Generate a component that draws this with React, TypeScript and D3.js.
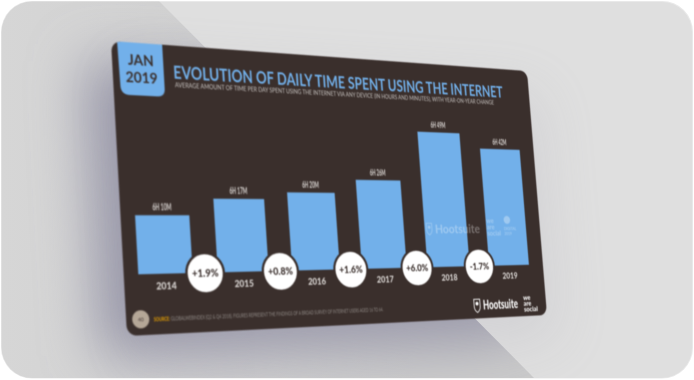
import React from "react";
import * as d3 from "d3";

// ---- data ----
const years = ["2014", "2015", "2016", "2017", "2018", "2019"];
const minutes = [370, 377, 380, 386, 409, 402];
const valueLabels = ["6H 10M", "6H 17M", "6H 20M", "6H 26M", "6H 49M", "6H 42M"];
const changes = ["+1.9%", "+0.8%", "+1.6%", "+6.0%", "-1.7%"];
const title = "EVOLUTION OF DAILY TIME SPENT USING THE INTERNET";
const subtitle =
  "AVERAGE AMOUNT OF TIME PER DAY SPENT USING THE INTERNET VIA ANY DEVICE (IN HOURS AND MINUTES), WITH YEAR-ON-YEAR CHANGE";
const sourceText =
  "GLOBALWEBINDEX (Q2 & Q4 2018). FIGURES REPRESENT THE FINDINGS OF A BROAD SURVEY OF INTERNET USERS AGED 16 TO 64.";

// ---- colours ----
const cardColor = "#3a2f2c";
const blue = "#72b0ea";
const font = "Lato, 'Open Sans', sans-serif";

// ---- flat slide and where its corners land on the page ----
const W = 1000;
const H = 562;
const corners: [number, number][] = [
  [111, 41],
  [527, 71],
  [547, 315],
  [127, 336],
];

function quadMatrix(p: [number, number][], w: number, h: number) {
  const [p0, p1, p2, p3] = p;
  const dx1 = p1[0] - p2[0], dy1 = p1[1] - p2[1];
  const dx2 = p3[0] - p2[0], dy2 = p3[1] - p2[1];
  const sx = p0[0] - p1[0] + p2[0] - p3[0], sy = p0[1] - p1[1] + p2[1] - p3[1];
  const den = dx1 * dy2 - dy1 * dx2;
  const g = (sx * dy2 - sy * dx2) / den;
  const k = (dx1 * sy - dy1 * sx) / den;
  const a = p1[0] - p0[0] + g * p1[0];
  const b = p3[0] - p0[0] + k * p3[0];
  const d = p1[1] - p0[1] + g * p1[1];
  const e = p3[1] - p0[1] + k * p3[1];
  return `matrix3d(${a / w},${d / w},0,${g / w},${b / h},${e / h},0,${k / h},0,0,1,0,${p0[0]},${p0[1]},0,1)`;
}

const x = d3.scaleBand<string>().domain(years).range([29, 960]).paddingInner(0.323).paddingOuter(0);
const y = d3.scaleLinear().domain([346, 409]).range([447, 152]);

function Shield({ tx, ty, s, color, opacity = 1 }: any) {
  return (
    <g transform={`translate(${tx},${ty}) scale(${s})`} opacity={opacity}>
      <path d="M0 0 L20 0 L20 20 Q20 30 10 36 Q0 30 0 20 Z" fill="none" stroke={color} strokeWidth={2.5} />
      <circle cx={10} cy={12} r={5} fill={color} />
    </g>
  );
}

function Card() {
  const step = x.step();
  const bw = x.bandwidth();
  const base = y(346);
  return (
    <svg width={W} height={H} viewBox={`0 0 ${W} ${H}`} style={{ display: "block", overflow: "visible" }}>
      <defs>
        <clipPath id="card-clip">
          <rect width={W} height={H} rx={20} />
        </clipPath>
      </defs>
      <g clipPath="url(#card-clip)">
        <rect width={W} height={H} fill={cardColor} />
        <path d="M12 -5 H104 V87 Q104 103 88 103 H32 Q15 103 14 87 Z" fill={blue} />
      </g>
      <g fontFamily={font} fill={cardColor} fontWeight={700} textAnchor="middle" fontSize={28}>
        <text x={58} y={44}>JAN</text>
        <text x={58} y={78}>2019</text>
      </g>
      <text x={124} y={66} fontFamily={font} fontWeight={700} fontSize={35.5} fill={blue} textLength={801} lengthAdjust="spacingAndGlyphs">
        {title}
      </text>
      <text x={126} y={83} fontFamily={font} fontSize={12.5} fill="#c9c5c2" textLength={772} lengthAdjust="spacingAndGlyphs">
        {subtitle}
      </text>

      {years.map((yr, i) => (
        <rect key={yr} x={x(yr)} y={y(minutes[i])} width={bw} height={base - y(minutes[i])} fill={blue} />
      ))}
      {years.map((yr, i) => (
        <text key={yr} x={x(yr)! + bw / 2} y={y(minutes[i]) - 10} textAnchor="middle" fontFamily="'Liberation Sans Narrow', Lato, sans-serif" fontWeight={700} fontSize={18} fill="#dedad7" textLength={39} lengthAdjust="spacingAndGlyphs">
          {valueLabels[i]}
        </text>
      ))}
      {years.map((yr) => (
        <text key={yr} x={x(yr)! + bw / 2} y={477} textAnchor="middle" fontFamily={font} fontWeight={900} fontSize={18} fill="#dcd8d5">
          {yr}
        </text>
      ))}

      {/* watermark */}
      <g fill="#ffffff" opacity={0.32} fontFamily={font} fontWeight={700}>
        <text x={712} y={374} fontSize={27}>Hootsuite</text>
        <g fontSize={15}>
          <text x={851} y={352}>we</text>
          <text x={851} y={366}>are</text>
          <text x={851} y={380}>social</text>
        </g>
        <circle cx={908} cy={345} r={9} />
        <g fontSize={9}>
          <text x={898} y={368}>DIGITAL</text>
          <text x={898} y={379}>2019</text>
        </g>
      </g>
      <Shield tx={690} ty={352} s={0.7} color="#ffffff" opacity={0.32} />

      {changes.map((c, i) => {
        const cx = x(years[i + 1])! - (step - bw) / 2;
        return (
          <g key={c}>
            <circle cx={cx} cy={base + 1} r={39.5} fill="#ffffff" stroke={cardColor} strokeWidth={5} />
            <text x={cx} y={base + 8} textAnchor="middle" fontFamily={font} fontWeight={900} fontSize={20} fill={cardColor}>
              {c}
            </text>
          </g>
        );
      })}

      {/* footer */}
      <circle cx={29} cy={532} r={17} fill="#b5a797" />
      <text x={29} y={536} textAnchor="middle" fontFamily={font} fontSize={10} fill={cardColor}>40</text>
      <text x={55} y={537} fontFamily={font} fontSize={10.5} fill="#8f8985" textLength={511} lengthAdjust="spacingAndGlyphs">
        <tspan fontWeight={700} fill="#e8a100">SOURCE: </tspan>
        {sourceText}
      </text>
      <Shield tx={800} ty={520} s={0.8} color="#ffffff" />
      <text x={824} y={543} fontFamily={font} fontWeight={900} fontSize={29} fill="#ffffff" textLength={96} lengthAdjust="spacingAndGlyphs">
        Hootsuite
      </text>
      <g fontFamily={font} fontWeight={900} fontSize={15.5} fill="#ffffff">
        <text x={936} y={526}>we</text>
        <text x={936} y={539}>are</text>
        <text x={936} y={552}>social</text>
      </g>
    </svg>
  );
}

export default function App() {
  const shadowPts = corners.map(([px, py]) => [px - 26, py + 20].join(",")).join(" ");
  return (
    <div style={{ position: "absolute", left: 0, top: 0, width: 694, height: 380, overflow: "hidden", background: "#ffffff" }}>
      <svg width={694} height={380} style={{ position: "absolute", left: 0, top: 0 }}>
        <defs>
          <clipPath id="bg-clip">
            <rect x={1.5} y={1.5} width={691} height={376.5} rx={31} />
          </clipPath>
          <clipPath id="diag-clip">
            <polygon points="158,0 536,380 0,380 0,0" />
          </clipPath>
          <filter id="soft" x="-40%" y="-40%" width="180%" height="180%">
            <feGaussianBlur stdDeviation={27} />
          </filter>
          <linearGradient id="side" x1="0" y1="0" x2="1" y2="0">
            <stop offset="0" stopColor="#d6d6d6" />
            <stop offset="0.6" stopColor="#cbcbcb" />
          </linearGradient>
        </defs>
        <rect x={1} y={1} width={692} height={377.5} rx={31} fill="#e9e9e9" />
        <g clipPath="url(#bg-clip)">
          <rect x={2} y={2} width={690} height={376} rx={30} fill="#dfdfdf" />
          <g clipPath="url(#diag-clip)">
            <rect width={694} height={380} fill="url(#side)" />
            <polygon points={shadowPts} fill="#9897a9" filter="url(#soft)" />
          </g>
          <polygon points={corners.map(([px, py]) => [px + 10, py + 24].join(",")).join(" ")} fill="#a09fad" opacity={0.2} filter="url(#soft)" />
        </g>
      </svg>
      <div
        style={{
          position: "absolute",
          left: 0,
          top: 0,
          width: W,
          height: H,
          transformOrigin: "0 0",
          transform: quadMatrix(corners, W, H),
          filter: "blur(1.7px)",
        }}
      >
        <Card />
      </div>
    </div>
  );
}
